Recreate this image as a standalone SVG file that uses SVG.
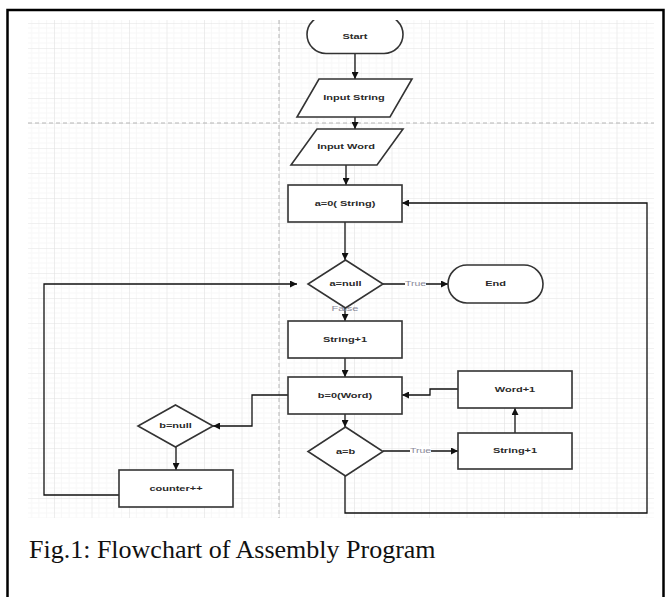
<svg xmlns="http://www.w3.org/2000/svg" width="665" height="597" viewBox="0 0 665 597">
<style>
.shape{fill:#fff;stroke:#333;stroke-width:1.6}
.conn{fill:none;stroke:#111;stroke-width:1.3}
.t{font-family:"Liberation Sans",Arial,sans-serif;font-size:11px;font-weight:bold;fill:#2a2a2a;text-anchor:middle;dominant-baseline:central}
.lbl{font-family:"Liberation Sans",Arial,sans-serif;font-size:10.5px;fill:#8a8a9a;text-anchor:middle;dominant-baseline:central}
.cap{font-family:"Liberation Serif","Times New Roman",serif;font-size:26px;fill:#111}
</style>
<defs>
<pattern id="grid" patternUnits="userSpaceOnUse" x="16.5" y="23" width="37.5" height="25">
<path d="M7.5 0V25M15 0V25M22.5 0V25M30 0V25M0 5H37.5M0 10H37.5M0 15H37.5M0 20H37.5" stroke="#f7f7f7" stroke-width="1" fill="none"/>
<path d="M0 0V25M0 0H37.5" stroke="#e2e2e2" stroke-width="1.2" fill="none"/>
</pattern>
<marker id="arr" viewBox="0 0 10 10" refX="10" refY="5" markerWidth="7" markerHeight="7" markerUnits="userSpaceOnUse" orient="auto">
<path d="M0 0L10 5L0 10z" fill="#111"/>
</marker>
<clipPath id="clipTop"><rect x="0" y="20" width="665" height="580"/></clipPath>
</defs>
<rect x="7.5" y="10" width="656" height="600" fill="#fff" stroke="#000" stroke-width="2.5"/>
<rect x="28" y="20" width="626" height="498" fill="url(#grid)"/>
<line x1="279" y1="20" x2="279" y2="518" stroke="#b5b5b5" stroke-width="1" stroke-dasharray="4,3"/>
<line x1="28" y1="123" x2="654" y2="123" stroke="#b5b5b5" stroke-width="1" stroke-dasharray="4,3"/>

<g id="connectors">
<path class="conn" d="M355 53.5V79" marker-end="url(#arr)"/>
<path class="conn" d="M355 117V129" marker-end="url(#arr)"/>
<path class="conn" d="M346 165V185" marker-end="url(#arr)"/>
<path class="conn" d="M345 222V260" marker-end="url(#arr)"/>
<path class="conn" d="M383 284H448" marker-end="url(#arr)"/>
<path class="conn" d="M345 308V321" marker-end="url(#arr)"/>
<path class="conn" d="M345 358V377" marker-end="url(#arr)"/>
<path class="conn" d="M345 414V427" marker-end="url(#arr)"/>
<path class="conn" d="M288 395H252V426H213" marker-end="url(#arr)"/>
<path class="conn" d="M176 447V470" marker-end="url(#arr)"/>
<path class="conn" d="M119 495H44V284H297" marker-end="url(#arr)"/>
<path class="conn" d="M383 451H458" marker-end="url(#arr)"/>
<path class="conn" d="M515 433V408" marker-end="url(#arr)"/>
<path class="conn" d="M458 389H430V395H402" marker-end="url(#arr)"/>
<path class="conn" d="M345 476V513H647V203H402" marker-end="url(#arr)"/>
<rect x="405" y="279" width="21" height="10" fill="#fff"/>
<text class="lbl" transform="translate(415.5,284) scale(1,0.66)">True</text>
<rect x="410" y="446" width="21" height="10" fill="#fff"/>
<text class="lbl" transform="translate(420.5,451) scale(1,0.66)">True</text>
<text class="lbl" transform="translate(345,309) scale(1,0.66)" style="font-size:11px">False</text>
</g>

<g id="start" clip-path="url(#clipTop)">
<rect class="shape" x="307" y="15.5" width="96" height="38" rx="19"/>
<text class="t" transform="translate(355,37) scale(1,0.66)">Start</text>
</g>
<g id="input-string">
<path class="shape" d="M319 79H412L390 117H297Z"/>
<text class="t" transform="translate(354,98) scale(1,0.66)">Input String</text>
</g>
<g id="input-word">
<path class="shape" d="M317 129H403L377 165H291Z"/>
<text class="t" transform="translate(346,147) scale(1,0.66)">Input Word</text>
</g>
<g id="a0">
<rect class="shape" x="288" y="185" width="114" height="37"/>
<text class="t" transform="translate(345,203.5) scale(1,0.66)">a=0( String)</text>
</g>
<g id="anull">
<path class="shape" d="M345.5 260L383 284L345.5 308L308 284Z"/>
<text class="t" transform="translate(345.5,284) scale(1,0.66)">a=null</text>
</g>
<g id="end">
<rect class="shape" x="448" y="265" width="95" height="38" rx="19"/>
<text class="t" transform="translate(495.5,284) scale(1,0.66)">End</text>
</g>
<g id="string1">
<rect class="shape" x="288" y="321" width="114" height="37"/>
<text class="t" transform="translate(345,339.5) scale(1,0.66)">String+1</text>
</g>
<g id="b0">
<rect class="shape" x="288" y="377" width="114" height="37"/>
<text class="t" transform="translate(345,395.5) scale(1,0.66)">b=0(Word)</text>
</g>
<g id="aeqb">
<path class="shape" d="M345.5 427L383 451.5L345.5 476L308 451.5Z"/>
<text class="t" transform="translate(345.5,451.5) scale(1,0.66)">a=b</text>
</g>
<g id="word1">
<rect class="shape" x="458" y="371" width="114" height="37"/>
<text class="t" transform="translate(515,389.5) scale(1,0.66)">Word+1</text>
</g>
<g id="string1r">
<rect class="shape" x="458" y="433" width="114" height="36"/>
<text class="t" transform="translate(515,451) scale(1,0.66)">String+1</text>
</g>
<g id="bnull">
<path class="shape" d="M175.5 405L213 426L175.5 447L138 426Z"/>
<text class="t" transform="translate(175.5,426) scale(1,0.66)">b=null</text>
</g>
<g id="counter">
<rect class="shape" x="119" y="470" width="114" height="37"/>
<text class="t" transform="translate(176,488.5) scale(1,0.66)">counter++</text>
</g>
<text class="cap" x="29" y="558">Fig.1: Flowchart of Assembly Program</text>
</svg>
